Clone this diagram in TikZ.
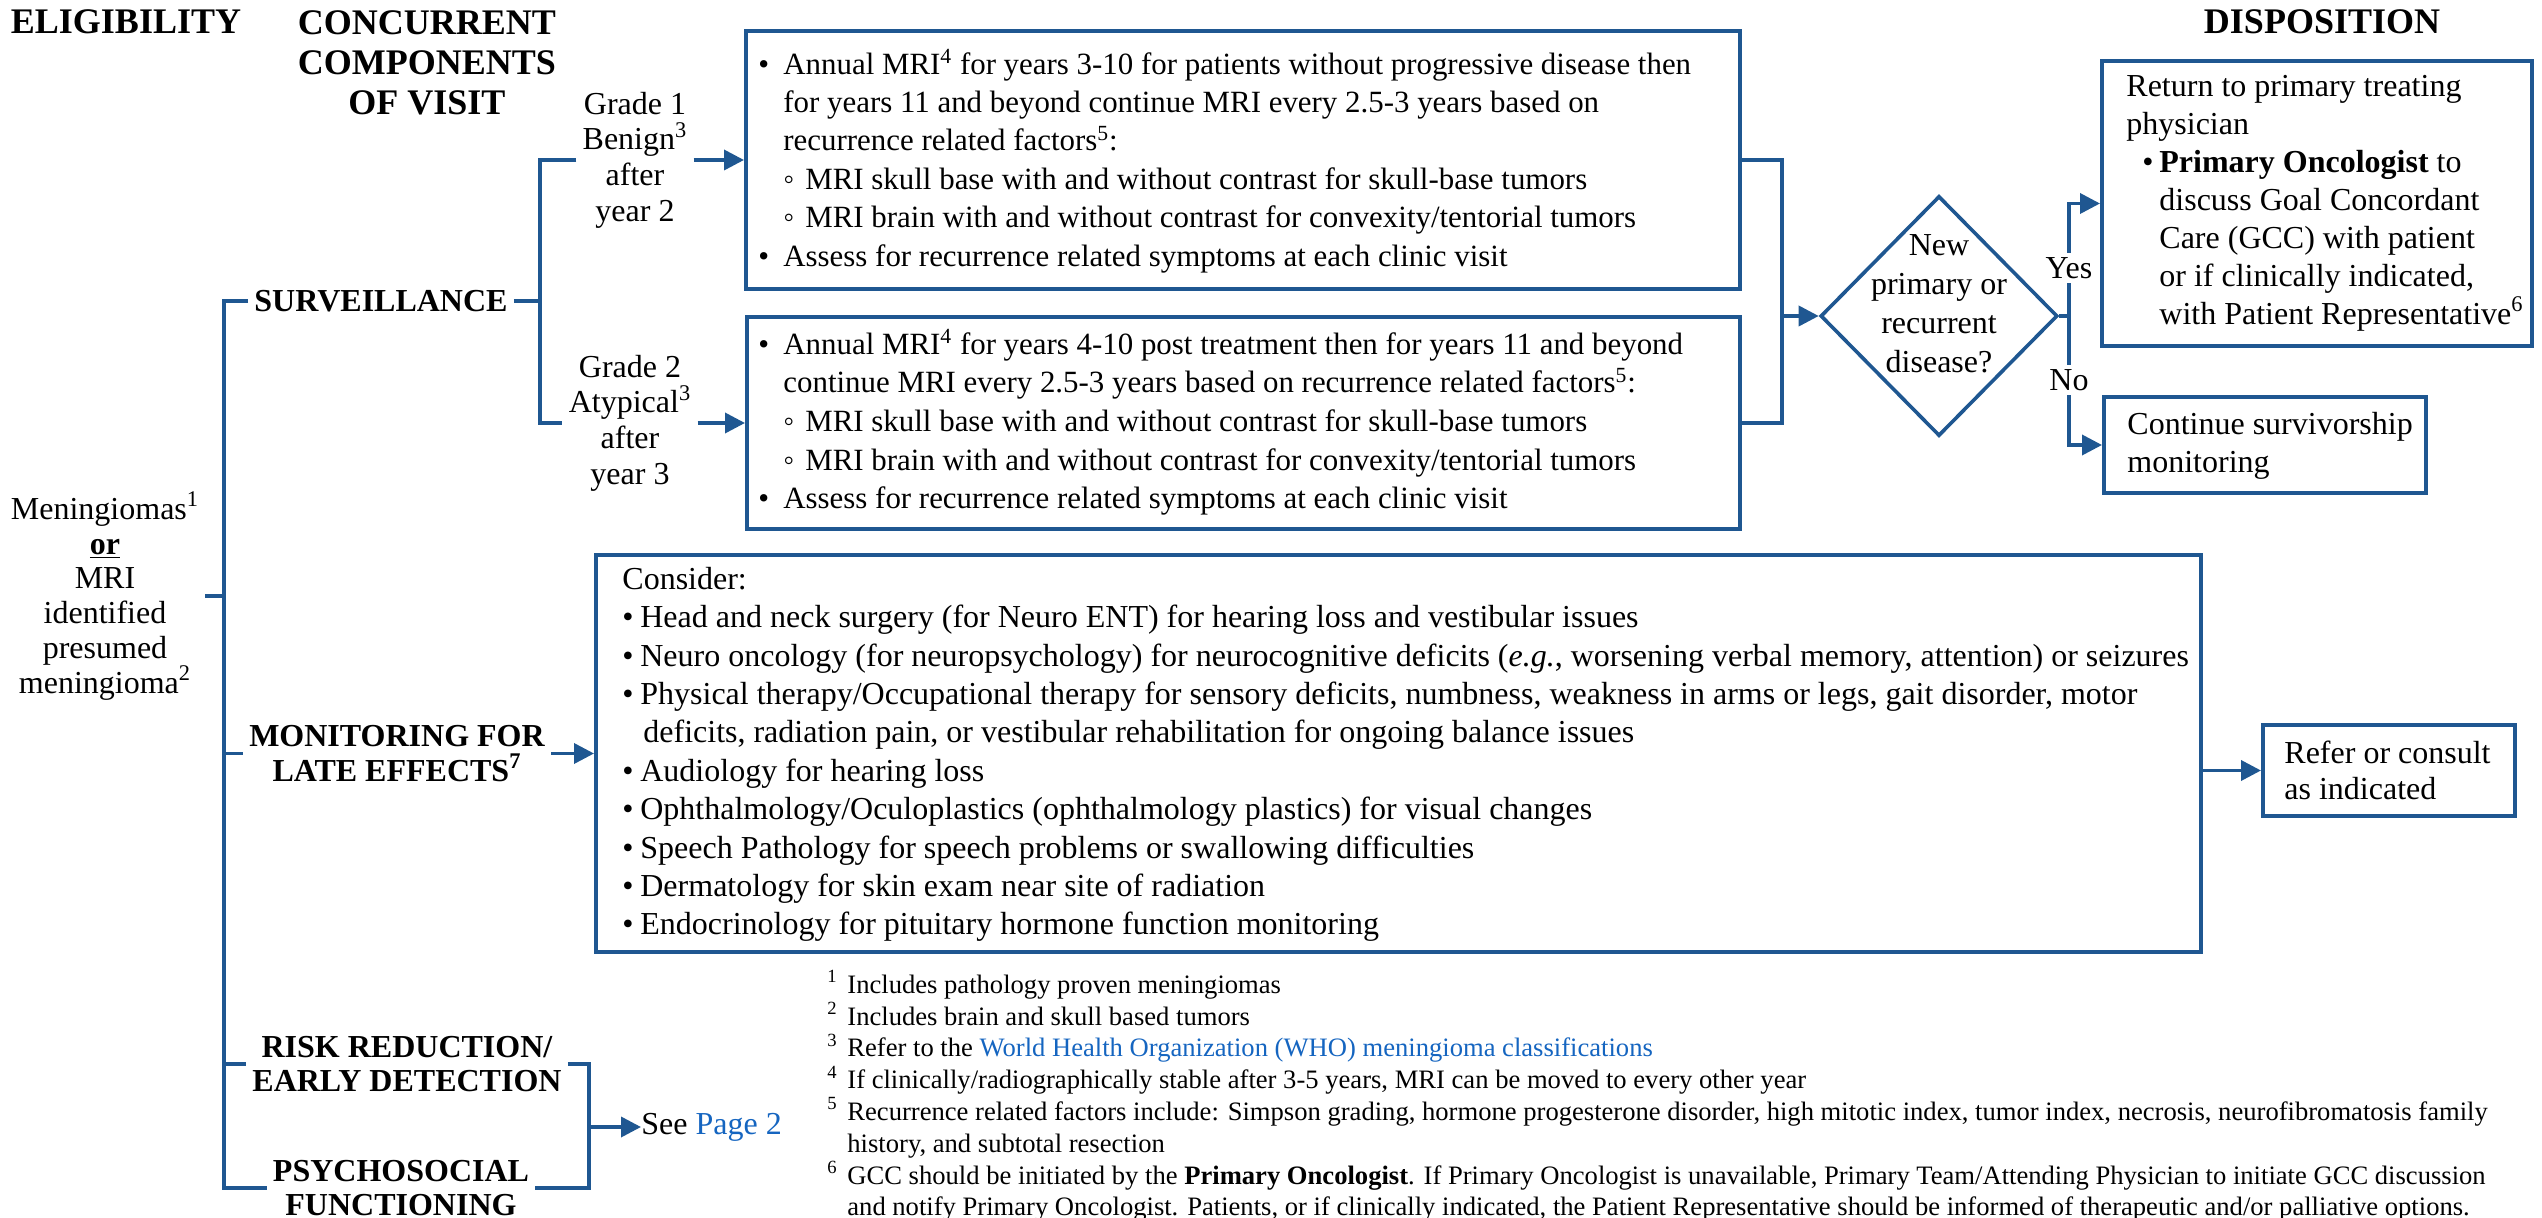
\documentclass[tikz,border=0pt]{standalone}
\usepackage{fontspec}
\setmainfont{Liberation Serif}
\usetikzlibrary{arrows.meta,shapes.geometric}
\definecolor{lc}{RGB}{31,87,145}
\definecolor{link}{RGB}{21,101,192}
\newcommand{\bulA}{\makebox[12.5pt][l]{•}}
\newcommand{\subB}{\hspace*{12.5pt}\makebox[11pt][l]{◦}}
\newcommand{\indA}{\hspace*{12.5pt}}
\newcommand{\bulC}{\makebox[9pt][l]{•}}
\newcommand{\indC}{\hspace*{10.5pt}}
\newcommand{\fnm}[1]{\makebox[10pt][l]{\textsuperscript{#1}}}
\begin{document}
\begin{tikzpicture}[x=0.5pt,y=-0.5pt,
  ln/.style={draw=lc, line width=1.8pt},
  arr/.style={draw=lc, line width=1.8pt, -{Triangle[length=10pt,width=10pt]}},
  box/.style={draw=lc, line width=2pt, inner sep=0pt},
  txt/.style={inner sep=0pt, align=left, anchor=west, font=\fontsize{16}{19.2}\selectfont},
  ctxt/.style={inner sep=3pt, align=center, font=\fontsize{16}{17.8}\selectfont},
  head/.style={inner sep=0pt, align=center, font=\fontsize{18}{20}\selectfont\bfseries},
  branch/.style={inner sep=3pt, align=center, font=\fontsize{16}{17.2}\selectfont\bfseries},
  lbl/.style={fill=white, inner sep=2pt, font=\fontsize{16}{18}\selectfont}
]
\useasboundingbox (0,0) rectangle (2542,1218);

% headers
\node[head] (hel) at (126,22) {ELIGIBILITY};
\node[head] (hcc) at (427,63) {CONCURRENT\\COMPONENTS\\OF VISIT};
\node[head] (hdi) at (2322,22) {DISPOSITION};

% eligibility
\node[ctxt, font=\fontsize{16}{17.4}\selectfont] (elig) at (105,596) {Meningiomas\textsuperscript{1}\\\underline{\textbf{or}}\\MRI\\identified\\presumed\\meningioma\textsuperscript{2}};

% branch labels
\node[branch] (sv) at (381,301) {SURVEILLANCE};
\node[branch] (mo) at (397,753.5) {MONITORING FOR\\LATE EFFECTS\textsuperscript{7}};
\node[branch] (rr) at (407,1064) {RISK REDUCTION/\\EARLY DETECTION};
\node[branch] (ps) at (401,1188) {PSYCHOSOCIAL\\FUNCTIONING};

% grade labels
\node[ctxt] (g1) at (635,160) {Grade 1\\Benign\textsuperscript{3}\\after\\year 2};
\node[ctxt] (g2) at (630,423) {Grade 2\\Atypical\textsuperscript{3}\\after\\year 3};

% boxes
\node[box, minimum width=497pt, minimum height=129pt] (b1) at (1243,160) {};
\node[box, minimum width=496.5pt, minimum height=106pt] (b2) at (1243.5,423) {};
\node[box, diamond, minimum width=118.5pt, minimum height=120pt, line width=1.8pt] (dq) at (1939,316) {};
\node[box, minimum width=215pt, minimum height=142.5pt] (b3) at (2317,203.5) {};
\node[box, minimum width=161pt, minimum height=48pt] (b4) at (2265,445) {};
\node[box, minimum width=802.5pt, minimum height=198.5pt] (b5) at (1398.5,753.5) {};
\node[box, minimum width=126pt, minimum height=45.5pt] (b6) at (2389,770.5) {};

% box texts
\node[txt, font=\fontsize{15.45}{19.2}\selectfont] (t1) at (758,161) {\bulA Annual MRI\textsuperscript{4} for years 3-10 for patients without progressive disease then\\
\indA for years 11 and beyond continue MRI every 2.5-3 years based on\\
\indA recurrence related factors\textsuperscript{5}:\\
\subB MRI skull base with and without contrast for skull-base tumors\\
\subB MRI brain with and without contrast for convexity/tentorial tumors\\
\bulA Assess for recurrence related symptoms at each clinic visit};

\node[txt, font=\fontsize{15.45}{19.3}\selectfont] (t2) at (758,422.5) {\bulA Annual MRI\textsuperscript{4} for years 4-10 post treatment then for years 11 and beyond\\
\indA continue MRI every 2.5-3 years based on recurrence related factors\textsuperscript{5}:\\
\subB MRI skull base with and without contrast for skull-base tumors\\
\subB MRI brain with and without contrast for convexity/tentorial tumors\\
\bulA Assess for recurrence related symptoms at each clinic visit};

\node[inner sep=0pt, align=center, font=\fontsize{16}{19.5}\selectfont] (tq) at (1939,304) {New\\primary or\\recurrent\\disease?};

\node[txt, font=\fontsize{16}{19}\selectfont] (t3) at (2126,203) {Return to primary treating\\
physician\\
\hspace*{8pt}\makebox[8.5pt][l]{•}\textbf{Primary Oncologist} to\\
\hspace*{16.5pt}discuss Goal Concordant\\
\hspace*{16.5pt}Care (GCC) with patient\\
\hspace*{16.5pt}or if clinically indicated,\\
\hspace*{16.5pt}with Patient Representative\textsuperscript{6}};

\node[txt, font=\fontsize{16}{19}\selectfont] (t4) at (2127,446) {Continue survivorship\\monitoring};

\node[txt] (t5) at (622,754.5) {Consider:\\
\bulC Head and neck surgery (for Neuro ENT) for hearing loss and vestibular issues\\
\bulC Neuro oncology (for neuropsychology) for neurocognitive deficits (\textit{e.g.},\ worsening verbal memory, attention) or seizures\\
\bulC Physical therapy/Occupational therapy for sensory deficits, numbness, weakness in arms or legs, gait disorder, motor\\
\indC deficits, radiation pain, or vestibular rehabilitation for ongoing balance issues\\
\bulC Audiology for hearing loss\\
\bulC Ophthalmology/Oculoplastics (ophthalmology plastics) for visual changes\\
\bulC Speech Pathology for speech problems or swallowing difficulties\\
\bulC Dermatology for skin exam near site of radiation\\
\bulC Endocrinology for pituitary hormone function monitoring};

\node[txt, font=\fontsize{16}{18}\selectfont] (t6) at (2284,770) {Refer or consult\\as indicated};

\node[txt, font=\fontsize{16}{18}\selectfont] (see) at (641,1127) {See \textcolor{link}{Page 2}};

% footnotes
\node[txt, font=\fontsize{13.3}{15.9}\selectfont] (fn) at (827,1096) {\fnm{1}Includes pathology proven meningiomas\\
\fnm{2}Includes brain and skull based tumors\\
\fnm{3}Refer to the \textcolor{link}{World Health Organization (WHO) meningioma classifications}\\
\fnm{4}If clinically/radiographically stable after 3-5 years, MRI can be moved to every other year\\
\fnm{5}Recurrence related factors include: Simpson grading, hormone progesterone disorder, high mitotic index, tumor index, necrosis, neurofibromatosis family\\
\hspace*{10pt}history, and subtotal resection\\
\fnm{6}GCC should be initiated by the \textbf{Primary Oncologist}. If Primary Oncologist is unavailable, Primary Team/Attending Physician to initiate GCC discussion\\
\hspace*{10pt}and notify Primary Oncologist. Patients, or if clinically indicated, the Patient Representative should be informed of therapeutic and/or palliative options.};

% coordinates
\coordinate (tr1) at (224,301);
\coordinate (tr2) at (224,753.5);
\coordinate (tr3) at (224,1064);
\coordinate (tr4) at (224,1188);
\coordinate (sj) at (540,301);
\coordinate (jn) at (1782,316);
\coordinate (dj) at (2069,316);
\coordinate (rj) at (589,1127);

% connectors
\draw[ln] (sv.west) -- (tr1) -- (tr4) -- (ps.west);
\draw[ln] (elig.east) -- (elig.east -| tr1);
\draw[ln] (tr2) -- (mo.west);
\draw[ln] (tr3) -- (rr.west);
\draw[ln] (sv.east) -- (sj);
\draw[ln] (g1.west) -| (sj) |- (g2.west);
\draw[arr] (g1.east) -- (b1.west);
\draw[arr] (g2.east) -- (b2.west);
\draw[ln] (b1.east) -| (jn) |- (b2.east);
\draw[arr] (jn) -- (dq.west);
\draw[ln] (dq.east) -- (dj);
\draw[arr] (dj) |- (b3.west);
\draw[arr] (dj) |- (b4.west);
\node[lbl] (yes) at (2069,268) {Yes};
\node[lbl] (no) at (2069,380) {No};
\draw[arr] (mo.east) -- (b5.west);
\draw[arr] (b5.east |- b6.west) -- (b6.west);
\draw[ln] (rr.east) -| (rj) |- (ps.east);
\draw[arr] (rj) -- (see.west);
\end{tikzpicture}
\end{document}
